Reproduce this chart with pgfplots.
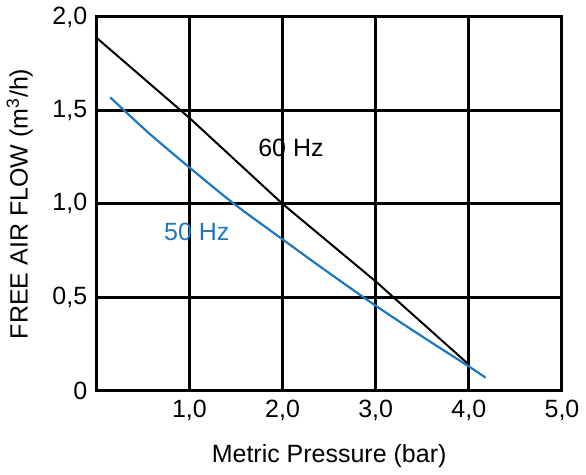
\documentclass[border=0pt]{standalone}
\usepackage{pgfplots}
\pgfplotsset{compat=1.18}
\usepackage{fontspec}
\setmainfont{Liberation Sans}
\definecolor{hzblue}{RGB}{30,120,190}
\begin{document}
\begin{tikzpicture}
  \begin{axis}[
      width=233pt, height=187pt, scale only axis,
      xmin=0, xmax=5, ymin=0, ymax=2,
      xtick={1,2,3,4,5},
      xticklabels={{1,0},{2,0},{3,0},{4,0},{5,0}},
      ytick={0,0.5,1,1.5,2},
      yticklabels={0,{0,5},{1,0},{1,5},{2,0}},
      grid=major,
      major grid style={black, line width=1.5pt},
      axis line style={line width=1.5pt},
      major tick length=0pt,
      tick label style={font=\fontsize{12.5}{14}\selectfont},
      label style={font=\fontsize{12.5}{14}\selectfont},
      xticklabel style={yshift=-1pt},
      yticklabel style={xshift=-1pt},
      xlabel={Metric Pressure (bar)},
      xlabel style={yshift=-5pt},
      ylabel={FREE AIR FLOW (m\textsuperscript{3}/h)},
      ylabel style={yshift=3pt},
    ]
    % 60 Hz
    \addplot [black, line width=1pt] coordinates {
      (0,1.89) (1,1.46) (2,1.0) (3,0.585) (4,0.14)
    };
    % 50 Hz
    \addplot [hzblue, line width=1.1pt, smooth] coordinates {
      (0.15,1.57) (0.55,1.385) (1,1.195) (1.48,1.0) (2,0.81)
      (2.5,0.63) (3,0.455) (3.5,0.29) (4,0.13) (4.18,0.07)
    };
    \node [font=\fontsize{12.5}{14}\selectfont] at (axis cs:2.09,1.30) {60 Hz};
    \node [font=\fontsize{12.5}{14}\selectfont, text=hzblue] at (axis cs:1.08,0.85) {50 Hz};
  \end{axis}
\end{tikzpicture}
\end{document}
